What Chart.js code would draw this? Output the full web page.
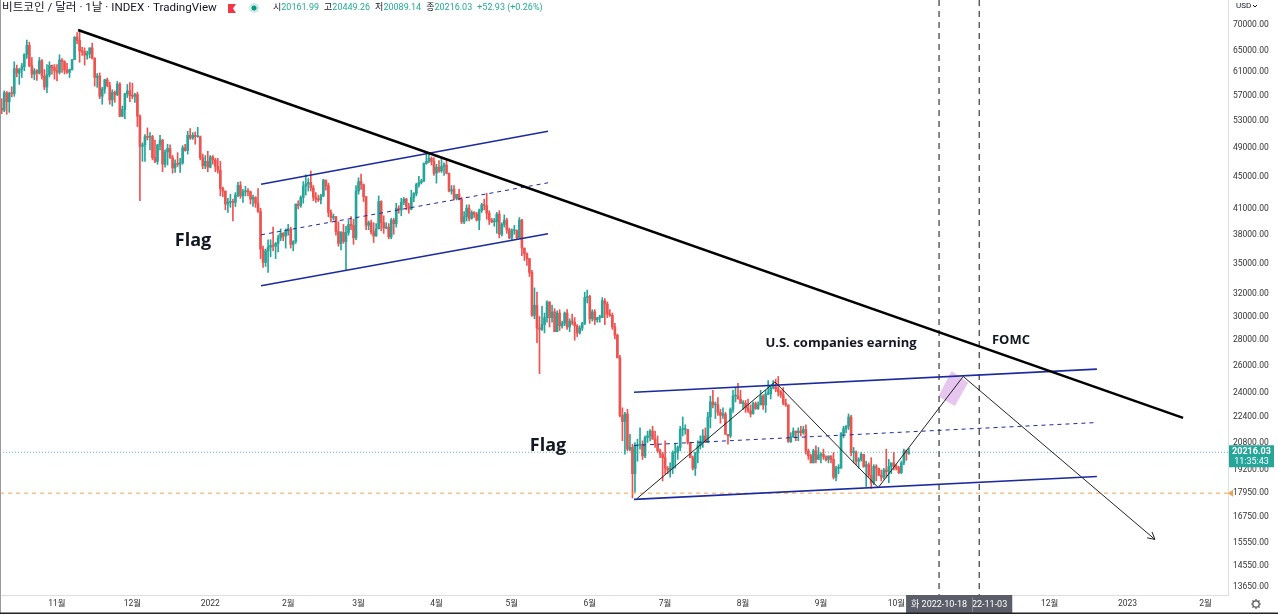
<!DOCTYPE html>
<html lang="ko">
<head>
<meta charset="utf-8">
<title>비트코인 / 달러 · 1날</title>
<script src="https://cdn.jsdelivr.net/npm/chart.js@4.4.1/dist/chart.umd.min.js"></script>
<style>
  html, body { margin: 0; padding: 0; background: #fff; }
  #wrap { width: 1278px; height: 614px; }
</style>
</head>
<body>
<div id="wrap"><canvas id="chart" width="1278" height="614"></canvas></div>
<script>
// Daily candles 2021-10-09 .. 2022-10-06, prices in thousand USD.
// Day numbers count from 2021-11-01 (= day 0).
const firstDay = -23;

const opens = [
  53.97,54.95,54.66,57.49,56.0,57.37,57.35,61.67,60.88,61.53,62.03,64.26,65.99,62.2,60.69,61.3,60.86,63.08,60.33,58.46,60.59,62.27,61.85,
  61.3,61.0,63.23,62.93,61.4,61.0,61.5,63.3,67.55,66.95,64.9,64.8,64.15,64.4,65.5,63.6,60.1,60.35,56.9,58.1,59.7,58.7,56.3,57.55,57.2,58.95,53.7,54.75,57.3,57.8,
  57.0,56.9,57.2,53.7,49.2,49.4,50.6,50.5,50.6,47.6,47.1,49.4,50.1,46.7,48.4,48.9,47.6,46.2,46.8,46.7,46.9,49.0,48.6,50.8,50.4,50.8,50.6,50.6,47.6,46.5,47.1,
  46.3,47.7,47.3,46.4,45.9,43.5,43.2,41.6,41.8,41.9,41.8,42.7,43.9,42.6,43.1,43.2,43.1,42.2,42.4,41.7,40.7,36.5,35.1,36.3,36.7,36.9,36.8,37.1,37.7,38.2,37.9,
  38.5,38.7,37.0,37.3,41.6,41.4,42.4,43.8,44.1,44.3,43.6,42.4,42.2,42.1,42.6,44.6,43.9,40.6,40.0,40.1,38.4,37.1,38.3,37.3,38.3,39.2,39.1,37.7,
  43.2,44.4,44.0,42.5,39.1,39.4,38.4,37.9,38.7,41.9,39.4,38.8,38.9,37.8,39.7,39.3,41.1,40.9,41.8,42.2,41.3,41.0,42.4,42.9,44.0,44.3,44.5,46.8,47.1,47.5,47.1,
  45.5,46.3,45.8,46.4,46.6,45.5,43.2,43.4,42.3,42.8,42.2,39.5,40.1,41.1,39.9,40.6,40.4,39.7,40.8,41.5,41.4,40.5,39.7,39.5,39.5,40.4,38.1,39.2,39.7,38.6,
  37.7,38.5,38.5,37.7,39.7,36.6,36.0,35.5,34.1,30.1,31.0,29.0,28.9,29.3,29.9,31.3,29.9,30.4,28.7,30.3,29.2,29.4,30.3,29.1,29.6,29.5,29.2,28.6,29.0,29.4,31.7,
  31.8,29.8,30.4,29.7,29.9,29.9,31.4,31.1,30.2,30.1,29.1,28.4,26.6,22.5,22.1,22.6,20.4,20.5,19.0,20.6,20.6,20.7,20.0,21.1,21.2,21.5,21.0,20.7,20.3,20.1,
  19.9,19.3,19.2,19.3,20.2,20.2,20.5,21.6,21.6,21.6,20.8,19.9,19.3,20.2,20.6,20.8,21.2,20.8,22.4,23.4,23.2,23.2,22.7,22.5,22.6,21.3,21.2,22.9,23.8,23.8,23.6,
  23.3,23.3,23.0,22.8,22.6,23.3,22.95,23.2,23.8,23.2,23.95,23.95,24.4,24.45,24.3,24.1,23.9,23.3,23.2,20.85,21.15,21.5,21.4,21.5,21.4,21.6,20.3,20.0,19.6,20.3,19.8,
  20.05,20.1,19.95,19.8,20.0,19.8,18.8,19.3,19.3,21.35,21.65,21.8,22.4,20.2,20.2,19.7,19.8,20.1,19.4,19.5,18.9,18.5,19.4,19.3,18.9,18.8,19.2,19.1,19.4,19.6,
  19.4,19.3,19.05,19.6,20.3,20.162
];
const highs = [
  55.5,56.5,57.8,57.7,57.6,58.5,62.9,62.3,61.7,62.6,64.4,67.0,66.6,63.7,61.7,61.5,63.7,63.3,61.5,62.4,62.9,62.3,62.4,
  62.4,64.2,63.5,63.1,62.6,61.6,63.3,67.7,68.5,69.0,65.6,65.5,64.9,65.5,66.4,63.6,60.8,60.9,58.4,59.8,60.0,59.3,58.0,57.8,59.4,59.2,55.3,57.4,58.9,59.2,
  59.1,57.4,57.6,53.9,49.7,50.9,51.9,51.2,50.8,50.1,49.5,50.8,50.2,48.7,49.5,49.4,47.9,47.3,48.3,47.5,49.3,49.5,51.4,51.8,51.2,51.3,52.0,50.7,48.1,47.9,48.5,
  47.9,47.9,47.5,47.5,47.1,43.7,43.2,42.3,42.8,42.2,43.0,44.3,44.4,43.4,43.8,43.5,43.2,42.7,42.5,43.5,41.1,36.8,36.5,37.5,37.5,38.9,37.2,38.0,38.7,38.3,38.7,
  39.2,38.9,37.4,41.6,42.0,42.6,44.4,45.3,44.8,45.8,43.9,43.0,42.7,42.8,44.7,44.6,44.2,40.9,40.4,40.1,39.5,38.4,39.2,39.0,39.7,40.1,39.8,43.9,
  44.9,45.4,44.1,42.5,39.6,39.7,39.4,39.3,42.6,42.0,40.2,39.4,39.3,39.9,39.9,41.7,41.4,42.3,42.4,42.3,41.7,43.3,43.0,44.2,45.1,44.7,46.9,48.2,48.1,47.7,47.6,
  46.7,47.2,47.4,46.9,47.2,45.5,43.9,43.9,42.8,43.4,42.4,40.7,41.5,41.5,40.8,40.7,40.6,41.0,41.7,42.2,42.9,40.8,39.9,39.9,40.6,40.8,39.4,40.3,39.9,38.8,
  38.7,39.1,38.6,40.0,39.8,36.6,36.1,35.5,34.3,32.6,32.2,30.0,30.9,30.3,31.4,31.3,31.0,30.7,30.5,30.6,29.6,30.4,30.6,29.8,30.2,29.9,29.3,29.2,29.5,32.2,32.4,
  31.9,30.6,30.6,29.9,30.1,31.7,31.6,31.3,30.6,30.3,29.4,28.5,26.8,23.0,22.7,22.9,21.3,20.7,20.8,21.0,21.7,20.9,21.2,21.5,21.6,21.8,21.5,21.2,20.4,20.2,
  20.9,19.4,19.6,20.3,20.7,20.6,21.8,22.4,21.9,21.6,20.8,20.0,20.2,20.9,21.2,21.6,21.7,22.7,23.8,24.2,23.4,23.7,22.9,23.0,22.7,21.3,23.0,24.2,24.4,24.7,24.2,
  23.5,23.5,23.6,23.2,23.4,23.4,23.4,24.2,23.9,24.2,24.9,24.5,24.9,25.0,25.2,24.2,24.4,23.6,23.2,21.4,21.7,21.5,21.7,21.8,21.8,21.9,20.4,20.1,20.4,20.6,20.5,
  20.2,20.4,20.0,20.0,20.0,20.2,19.4,19.5,21.4,21.8,21.85,22.6,22.5,20.5,20.3,19.9,20.2,20.1,19.7,19.6,19.9,19.5,19.5,19.3,19.2,19.3,20.4,19.8,19.6,20.2,
  19.5,19.4,19.7,20.4,20.35,20.449
];
const lows = [
  53.7,54.1,54.4,54.0,54.3,56.8,56.9,60.2,58.9,60.1,61.3,63.5,62.0,60.0,59.7,59.6,60.7,59.8,58.0,57.5,60.2,60.7,59.8,
  59.5,60.7,61.0,60.7,60.8,60.1,61.4,63.3,66.3,62.8,64.1,62.3,63.4,63.6,63.4,58.6,58.4,56.5,55.6,57.4,58.5,55.6,55.3,55.9,57.0,53.6,53.6,53.3,56.7,56.0,
  56.5,55.9,52.1,42.0,47.1,47.1,50.1,48.7,47.3,46.9,46.7,48.7,45.7,46.3,46.6,47.5,45.5,45.6,46.4,45.6,46.7,48.5,48.1,50.2,50.2,49.5,50.5,47.3,46.1,46.1,45.7,
  46.2,46.7,45.7,45.5,42.6,42.5,40.9,40.6,41.2,39.6,41.3,42.5,42.3,41.8,42.6,42.6,41.6,41.3,41.2,40.6,35.5,34.6,34.7,34.1,35.7,36.3,35.5,36.2,37.4,37.4,36.6,
  38.0,36.6,36.3,37.1,41.0,41.2,41.7,42.7,43.2,43.2,42.0,41.8,41.9,41.6,42.5,43.3,40.1,39.5,39.7,38.0,36.8,36.4,37.1,34.3,38.0,38.6,37.0,37.5,
  42.8,43.4,41.9,38.6,38.6,38.1,37.2,37.9,38.7,38.5,38.2,38.7,37.6,37.6,38.1,38.9,40.5,40.2,41.5,40.9,40.5,40.9,41.9,42.6,43.7,44.1,44.4,46.7,46.9,46.6,45.2,
  44.2,45.6,45.6,45.2,45.4,43.1,42.8,42.1,42.1,42.1,39.3,39.3,39.6,39.6,39.8,40.0,39.6,38.6,40.6,40.9,39.8,39.2,39.4,39.0,38.2,37.7,37.9,38.9,38.2,37.6,
  37.4,38.1,37.5,37.7,35.8,35.3,34.8,33.7,30.0,29.8,27.8,25.4,28.8,28.6,29.5,29.1,29.5,28.7,28.7,28.8,29.0,29.2,28.9,28.7,29.3,28.0,28.3,28.5,28.8,29.3,31.2,
  29.4,29.6,29.3,29.5,29.5,29.9,29.3,29.9,30.0,28.9,28.1,26.6,22.4,20.9,20.1,20.3,20.3,17.7,18.0,19.7,20.4,19.8,19.9,20.8,20.9,21.0,20.5,20.2,19.9,18.6,
  18.97,19.0,18.8,19.0,19.3,19.8,20.3,21.2,21.3,20.7,19.9,19.2,18.9,19.6,20.4,20.5,20.8,20.8,21.7,23.0,22.3,22.5,22.0,22.3,21.3,20.7,21.1,22.7,23.4,23.6,23.3,
  22.9,22.7,22.7,22.4,22.6,22.9,22.9,23.2,22.9,22.7,23.9,23.6,24.3,24.1,23.8,23.7,23.2,23.1,20.8,20.8,21.1,20.9,20.9,21.2,21.3,20.1,19.8,19.6,19.6,19.6,19.8,
  19.6,19.8,19.7,19.6,19.6,18.7,18.6,19.0,19.3,21.1,21.4,21.6,20.0,19.6,19.5,19.3,19.7,19.35,18.3,18.8,18.2,18.4,18.6,18.9,18.6,18.7,18.8,18.5,19.0,19.2,
  19.2,19.0,19.0,19.5,19.75,20.089
];
const closes = [
  54.95,54.66,57.49,56.0,57.37,57.35,61.67,60.88,61.53,62.03,64.26,65.99,62.2,60.69,61.3,60.86,63.08,60.33,58.46,60.59,62.27,61.85,61.3,
  61.0,63.23,62.93,61.4,61.0,61.5,63.3,67.55,66.95,64.9,64.8,64.15,64.4,65.5,63.6,60.1,60.35,56.9,58.1,59.7,58.7,56.3,57.55,57.2,58.95,53.7,54.75,57.3,57.8,57.0,
  56.9,57.2,53.7,49.2,49.4,50.6,50.5,50.6,47.6,47.1,49.4,50.1,46.7,48.4,48.9,47.6,46.2,46.8,46.7,46.9,49.0,48.6,50.8,50.4,50.8,50.6,50.6,47.6,46.5,47.1,46.3,
  47.7,47.3,46.4,45.9,43.5,43.2,41.6,41.8,41.9,41.8,42.7,43.9,42.6,43.1,43.2,43.1,42.2,42.4,41.7,40.7,36.5,35.1,36.3,36.7,36.9,36.8,37.1,37.7,38.2,37.9,38.5,
  38.7,37.0,37.3,41.6,41.4,42.4,43.8,44.1,44.3,43.6,42.4,42.2,42.1,42.6,44.6,43.9,40.6,40.0,40.1,38.4,37.1,38.3,37.3,38.3,39.2,39.1,37.7,43.2,
  44.4,44.0,42.5,39.1,39.4,38.4,37.9,38.7,41.9,39.4,38.8,38.9,37.8,39.7,39.3,41.1,40.9,41.8,42.2,41.3,41.0,42.4,42.9,44.0,44.3,44.5,46.8,47.1,47.5,47.1,45.5,
  46.3,45.8,46.4,46.6,45.5,43.2,43.4,42.3,42.8,42.2,39.5,40.1,41.1,39.9,40.6,40.4,39.7,40.8,41.5,41.4,40.5,39.7,39.5,39.5,40.4,38.1,39.2,39.7,38.6,37.7,
  38.5,38.5,37.7,39.7,36.6,36.0,35.5,34.1,30.1,31.0,29.0,28.9,29.3,29.9,31.3,29.9,30.4,28.7,30.3,29.2,29.4,30.3,29.1,29.6,29.5,29.2,28.6,29.0,29.4,31.7,31.8,
  29.8,30.4,29.7,29.9,29.9,31.4,31.1,30.2,30.1,29.1,28.4,26.6,22.5,22.1,22.6,20.4,20.5,19.0,20.6,20.6,20.7,20.0,21.1,21.2,21.5,21.0,20.7,20.3,20.1,19.9,
  19.3,19.2,19.3,20.2,20.2,20.5,21.6,21.6,21.6,20.8,19.9,19.3,20.2,20.6,20.8,21.2,20.8,22.4,23.4,23.2,23.2,22.7,22.5,22.6,21.3,21.2,22.9,23.8,23.8,23.6,23.3,
  23.3,23.0,22.8,22.6,23.3,22.95,23.2,23.8,23.2,23.95,23.95,24.4,24.45,24.3,24.1,23.9,23.3,23.2,20.85,21.15,21.5,21.4,21.5,21.4,21.6,20.3,20.0,19.6,20.3,19.8,20.05,
  20.1,19.95,19.8,20.0,19.8,18.8,19.3,19.3,21.35,21.65,21.8,22.4,20.2,20.2,19.7,19.8,20.1,19.4,19.5,18.9,18.5,19.4,19.3,18.9,18.8,19.2,19.1,19.4,19.6,19.4,
  19.3,19.05,19.6,20.3,20.162,20.216
];

// time axis: month starts (day numbers) and their labels
const monthDays = [0, 30, 61, 92, 120, 151, 181, 212, 242, 273, 304, 334, 365, 395, 426, 457];
const monthLabels = ['11월', '12월', '2022', '2월', '3월', '4월', '5월', '6월', '7월', '8월', '9월', '10월', '11월', '12월', '2023', '2월'];

// price axis ticks (USD)
const priceTicks = [70000, 65000, 61000, 57000, 53000, 49000, 45000, 41000, 38000, 35000, 32000,
  30000, 28000, 26000, 24000, 22400, 20800, 19200, 17950, 16750, 15550, 14550, 13650];

// drawings as [day, price] pairs
const trendLine = [[8.4, 68990], [448.1, 22340]];
const flag1Upper = [[81.2, 44060], [195.4, 51410]];
const flag1Lower = [[81.2, 32800], [195.4, 38150]];
const flag1Mid = [[81.2, 38040], [195.4, 44250]];
const flag2Upper = [[229.6, 24070], [413.8, 25740]];
const flag2Lower = [[229.6, 17630], [413.8, 18840]];
const flag2Mid = [[229.6, 20620], [413.8, 22040]];
const swingPath = [[230.7, 17660], [285.7, 24800], [326.8, 18240], [360.6, 25200], [436.9, 15690]];
const targetBox = [[356.0, 25610], [362.6, 24760], [357.3, 23130], [350.7, 23770], [356.0, 25610]];
const eventDays = [351, 367];
const eventLabels = ['화 2022-10-18', '목 2022-11-03'];
const lastPrice = 20216.03;
const alertPrice = 17950;

// header legend: label, value
const ohlcKeys = ['시', '고', '저', '종'];
const ohlcValues = ['20161.99', '20449.26', '20089.14', '20216.03'];
const changeText = '+52.93 (+0.26%)';

const dayMin = -22.68, dayMax = 465.98;
const priceMin = 13350, priceMax = 75280;

const UP = '#26a69a', DOWN = '#ef5350';

const wicks = [], bodies = [], candleColors = [];
opens.forEach((o, i) => {
  const d = firstDay + i;
  const c = closes[i];
  wicks.push({ x: d, y: [lows[i] * 1000, highs[i] * 1000] });
  bodies.push({ x: d, y: [Math.min(o, c) * 1000, Math.max(o, c) * 1000] });
  candleColors.push(c >= o ? UP : DOWN);
});

function lineSet(points, color, width, dash) {
  return {
    type: 'line',
    data: points.map(([d, p]) => ({ x: d, y: p })),
    borderColor: color,
    borderWidth: width,
    borderDash: dash || [],
    pointRadius: 0,
    tension: 0,
    fill: false,
    order: 0
  };
}

const NAVY = '#1b2a9e';

const datasets = [
  lineSet(trendLine, '#000000', 2.6),
  lineSet(flag1Upper, NAVY, 1.6),
  lineSet(flag1Lower, NAVY, 1.6),
  lineSet(flag1Mid, NAVY, 1, [4, 4]),
  lineSet(flag2Upper, NAVY, 1.6),
  lineSet(flag2Lower, NAVY, 1.6),
  lineSet(flag2Mid, NAVY, 1, [4, 4]),
  lineSet(swingPath, '#222222', 1),
  lineSet([[eventDays[0], priceMax], [eventDays[0], priceMin]], '#555555', 1.4, [6, 5]),
  lineSet([[eventDays[1], priceMax], [eventDays[1], priceMin]], '#555555', 1.4, [6, 5]),
  lineSet([[dayMin, alertPrice], [dayMax, alertPrice]], '#f5a04a', 1, [4, 4]),
  lineSet([[dayMin, lastPrice], [dayMax, lastPrice]], 'rgba(38,166,154,0.75)', 1, [1, 2]),
  Object.assign(lineSet(targetBox, 'rgba(0,0,0,0)', 0), {
    fill: 'shape', backgroundColor: 'rgba(214,160,228,0.6)', order: 1
  }),
  {
    data: bodies, backgroundColor: candleColors, barThickness: 2, minBarLength: 1,
    grouped: false, borderWidth: 0, order: 2
  },
  {
    data: wicks, backgroundColor: candleColors, barThickness: 1,
    grouped: false, borderWidth: 0, order: 3
  }
];

const FONT = 'Roboto, "Noto Sans CJK KR", sans-serif';

const overlay = {
  id: 'overlay',
  afterDraw(chart) {
    const { ctx, scales: { x, y } } = chart;
    ctx.save();

    // header
    ctx.textBaseline = 'middle';
    ctx.textAlign = 'left';
    ctx.fillStyle = '#131722';
    ctx.font = '11.6px ' + FONT;
    ctx.fillText('비트코인 / 달러 · 1날 · INDEX · TradingView', 2, 8);
    ctx.fillStyle = '#f23645';
    ctx.beginPath();
    ctx.moveTo(228, 4); ctx.lineTo(236, 4); ctx.lineTo(233, 8.5); ctx.lineTo(236, 13); ctx.lineTo(228, 13);
    ctx.closePath(); ctx.fill();
    ctx.fillStyle = 'rgba(38,166,154,0.22)';
    ctx.beginPath(); ctx.arc(254, 8, 5, 0, Math.PI * 2); ctx.fill();
    ctx.fillStyle = '#089981';
    ctx.beginPath(); ctx.arc(254, 8, 2.5, 0, Math.PI * 2); ctx.fill();
    ctx.font = '9px ' + FONT;
    let hx = 273;
    ohlcKeys.forEach((k, i) => {
      ctx.fillStyle = '#131722';
      ctx.fillText(k, hx, 8);
      hx += ctx.measureText(k).width;
      ctx.fillStyle = '#22ab94';
      ctx.fillText(ohlcValues[i], hx, 8);
      hx += ctx.measureText(ohlcValues[i]).width + 5;
    });
    ctx.fillText(changeText, hx, 8);

    // annotations
    ctx.fillStyle = '#131722';
    ctx.textAlign = 'center';
    ctx.font = 'bold 18px "Open Sans", sans-serif';
    ctx.fillText('Flag', 193, 241);
    ctx.fillText('Flag', 548, 446);
    ctx.font = 'bold 13px "Open Sans", sans-serif';
    ctx.fillText('U.S. companies earning', 841, 343);
    ctx.fillText('FOMC', 1011, 340);

    // arrow head at the end of the projected path
    const [pd, pp] = swingPath[swingPath.length - 2];
    const [ed, ep] = swingPath[swingPath.length - 1];
    const x1 = x.getPixelForValue(pd), y1 = y.getPixelForValue(pp);
    const x2 = x.getPixelForValue(ed), y2 = y.getPixelForValue(ep);
    const ang = Math.atan2(y2 - y1, x2 - x1);
    ctx.strokeStyle = '#222';
    ctx.lineWidth = 1;
    ctx.beginPath();
    ctx.moveTo(x2 - 8 * Math.cos(ang - 0.5), y2 - 8 * Math.sin(ang - 0.5));
    ctx.lineTo(x2, y2);
    ctx.lineTo(x2 - 8 * Math.cos(ang + 0.5), y2 - 8 * Math.sin(ang + 0.5));
    ctx.stroke();

    // last price label on the price axis
    const ly = y.getPixelForValue(lastPrice);
    ctx.fillStyle = '#26a69a';
    ctx.fillRect(1229, ly - 7, 45, 22);
    ctx.fillStyle = '#fff';
    ctx.font = 'bold 9px ' + FONT;
    ctx.fillText('20216.03', 1251.5, ly - 1);
    ctx.font = '9px ' + FONT;
    ctx.fillText('11:35:43', 1251.5, ly + 9);

    // alert marker
    const ay = y.getPixelForValue(alertPrice);
    ctx.fillStyle = '#f5a04a';
    ctx.beginPath();
    ctx.moveTo(1228, ay); ctx.lineTo(1233, ay - 3.5); ctx.lineTo(1233, ay + 3.5);
    ctx.closePath(); ctx.fill();

    // event labels on the time axis
    const boxTop = chart.chartArea.bottom;
    [1, 0].forEach(i => {
      const cx = x.getPixelForValue(eventDays[i]);
      ctx.fillStyle = '#5b5e69';
      ctx.fillRect(cx - 33, boxTop, 66, 19);
      ctx.fillStyle = '#fff';
      ctx.font = '9px ' + FONT;
      ctx.fillText(eventLabels[i], cx, boxTop + 9.5);
    });
    const ex = x.getPixelForValue(eventDays[0]) + 33;
    ctx.strokeStyle = '#8a8d96';
    ctx.beginPath(); ctx.moveTo(ex + 0.5, boxTop + 2); ctx.lineTo(ex + 0.5, boxTop + 17); ctx.stroke();

    // currency + settings
    ctx.fillStyle = '#131722';
    ctx.textAlign = 'left';
    ctx.font = '8px ' + FONT;
    ctx.fillText('USD', 1236, 6);
    ctx.strokeStyle = '#131722';
    ctx.beginPath(); ctx.moveTo(1253, 5); ctx.lineTo(1255, 7); ctx.lineTo(1257, 5); ctx.stroke();
    ctx.strokeStyle = '#555';
    ctx.lineWidth = 1.2;
    ctx.beginPath(); ctx.arc(1256, 604, 3.2, 0, Math.PI * 2); ctx.stroke();
    for (let k = 0; k < 8; k++) {
      const a = k * Math.PI / 4;
      ctx.beginPath();
      ctx.moveTo(1256 + 3.2 * Math.cos(a), 604 + 3.2 * Math.sin(a));
      ctx.lineTo(1256 + 5 * Math.cos(a), 604 + 5 * Math.sin(a));
      ctx.stroke();
    }

    // window frame
    ctx.strokeStyle = '#9a9a9a';
    ctx.lineWidth = 1;
    ctx.beginPath(); ctx.moveTo(0.5, 0); ctx.lineTo(0.5, 614); ctx.stroke();
    ctx.strokeStyle = '#222';
    ctx.lineWidth = 1.5;
    ctx.beginPath(); ctx.moveTo(0, 613.2); ctx.lineTo(1278, 613.2); ctx.stroke();

    ctx.restore();
  }
};

new Chart(document.getElementById('chart'), {
  type: 'bar',
  data: { datasets },
  options: {
    responsive: false,
    animation: false,
    events: [],
    layout: { padding: 0 },
    plugins: { legend: { display: false }, tooltip: { enabled: false } },
    scales: {
      x: {
        type: 'linear',
        min: dayMin,
        max: dayMax,
        bounds: 'data',
        offset: false,
        grid: { display: false, drawTicks: false },
        border: { display: true, color: '#dcdee3' },
        ticks: {
          autoSkip: false,
          maxRotation: 0,
          padding: 4,
          color: '#333',
          font: { family: FONT, size: 8.5 },
          callback: v => monthLabels[monthDays.indexOf(v)]
        },
        afterBuildTicks: axis => { axis.ticks = monthDays.map(v => ({ value: v })); },
        afterFit: axis => {
          axis.height = 19;
          axis.paddingLeft = 0; axis.paddingRight = 0;
        }
      },
      y: {
        type: 'logarithmic',
        position: 'right',
        min: priceMin,
        max: priceMax,
        bounds: 'data',
        grid: { display: false, drawTicks: false },
        border: { display: true, color: '#dcdee3' },
        ticks: {
          autoSkip: false,
          padding: 5,
          color: '#333',
          font: { family: FONT, size: 8.5 },
          callback: v => v.toFixed(2)
        },
        afterBuildTicks: axis => { axis.ticks = priceTicks.map(v => ({ value: v })); },
        afterFit: axis => {
          axis.width = 50;
          axis.paddingTop = 0; axis.paddingBottom = 0;
        }
      }
    }
  },
  plugins: [overlay]
});
</script>
</body>
</html>
